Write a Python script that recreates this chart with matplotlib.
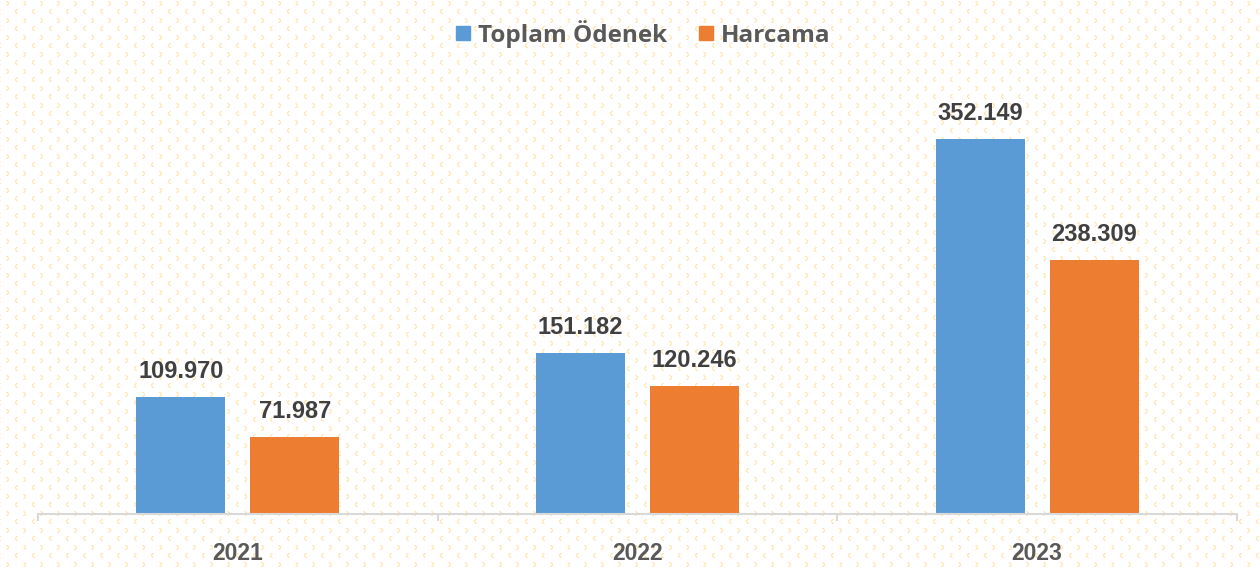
import numpy as np
import matplotlib
matplotlib.use("Agg")
import matplotlib.pyplot as plt
from matplotlib.lines import Line2D

years = ["2021", "2022", "2023"]
toplam_odenek = [109.970, 151.182, 352.149]
harcama = [71.987, 120.246, 238.309]
series_names = ["Toplam Ödenek", "Harcama"]
colors = ["#5b9bd5", "#ed7d31"]

W, H = 1260, 570
fig = plt.figure(figsize=(W / 100, H / 100), dpi=100)
fig.patch.set_facecolor("white")

# faint chevron background pattern
bg = np.ones((H, W, 4))
bg[..., 3] = 0
pat = np.array([1.0, 0.92, 0.72, 1.0])
right = [(0, 0), (1, 0), (1, 1), (2, 1), (2, 2), (1, 3), (2, 3), (0, 4), (1, 4)]
left = [(2, 0), (1, 0), (1, 1), (0, 1), (0, 2), (1, 3), (0, 3), (2, 4), (1, 4)]
per = 17
for y0 in range(0, H, per):
    for x0 in range(0, W, per):
        for dx, dy in right:
            x, y = x0 + 6 + dx, y0 + 1 + dy
            if x < W and y < H:
                bg[y, x] = pat
        for dx, dy in left:
            x, y = x0 + dx - 2, y0 + 9 + dy
            if 0 <= x < W and y < H:
                bg[y, x] = pat
fig.figimage(bg, xo=0, yo=0, origin="upper", zorder=-5)

ax = fig.add_axes([38 / W, 1 - 514 / H, 1199 / W, 426 / H])
ax.set_facecolor("none")
ax.set_zorder(1)

x = np.arange(len(years))
bw = 0.2225
off = 0.1425
b1 = ax.bar(x - off, toplam_odenek, bw, color=colors[0], zorder=2)
b2 = ax.bar(x + off, harcama, bw, color=colors[1], zorder=2)

fmt = lambda v: f"{v:.3f}"
for bars in (b1, b2):
    ax.bar_label(bars, labels=[fmt(b.get_height()) for b in bars], padding=10,
                 fontsize=17, fontweight="bold", color="#404040",
                 family=["Liberation Sans", "DejaVu Sans"])

ax.set_xlim(-0.5, len(years) - 0.5)
ax.set_ylim(0, 400)
ax.set_yticks([])
for s in ["top", "right", "left"]:
    ax.spines[s].set_visible(False)
ax.spines["bottom"].set_color("#d9d9d9")
ax.spines["bottom"].set_linewidth(1.5)

ax.set_xticks(x)
ax.set_xticklabels(years, fontsize=16.5, fontweight="bold", color="#595959",
                   family=["Liberation Sans", "DejaVu Sans"])
ax.tick_params(axis="x", which="major", length=0, pad=20)
ax.set_xticks(np.arange(-0.5, len(years)), minor=True)
ax.tick_params(axis="x", which="minor", length=5, width=1.5, color="#d9d9d9")

handles = [Line2D([], [], marker="s", linestyle="none", markersize=10,
                  markerfacecolor=c, markeredgecolor=c) for c in colors]
leg = fig.legend(handles, series_names, loc="center", bbox_to_anchor=(643 / W, 1 - 34 / H),
                 ncol=2, frameon=False, handlelength=0.6, handletextpad=0.3,
                 columnspacing=1.3,
                 prop={"family": ["Open Sans", "DejaVu Sans"], "weight": "bold", "size": 17.5})
for t in leg.get_texts():
    t.set_color("#595959")

fig.savefig("out.png", dpi=100)
